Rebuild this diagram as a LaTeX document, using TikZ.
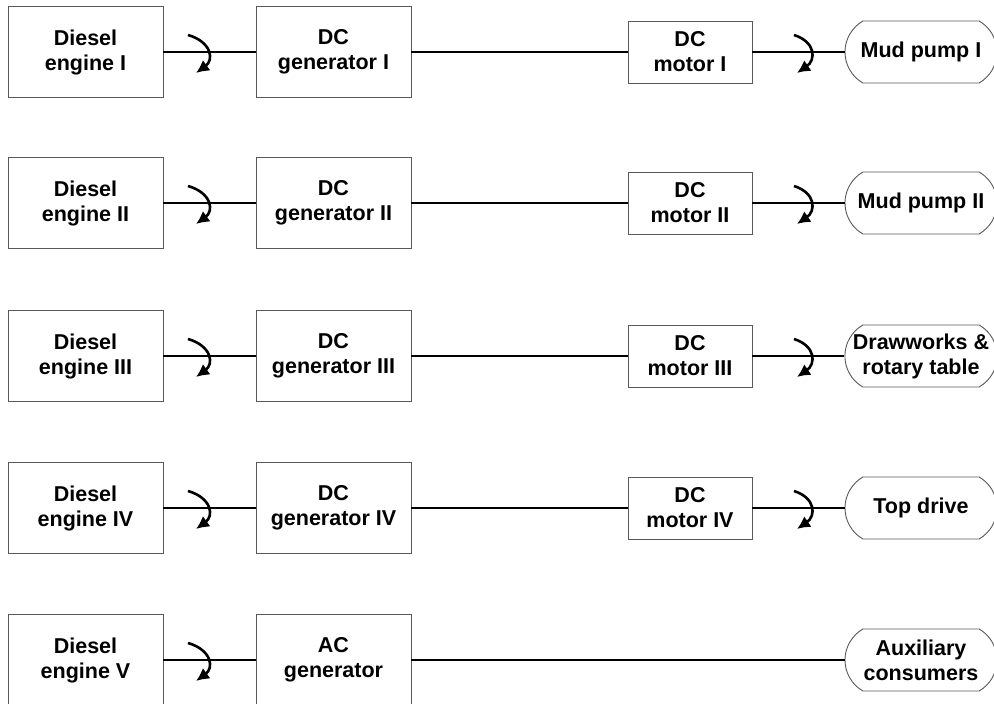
\documentclass[tikz,border=0pt]{standalone}
\usepackage{fontspec}
\setmainfont{Liberation Sans}
\usetikzlibrary{shapes.misc,arrows.meta}
\begin{document}
\begin{tikzpicture}[x=1pt,y=-1pt,
  unit/.style={draw=black!65, line width=0.9pt, fill=white, align=center,
    font=\fontsize{21.5}{25}\selectfont\bfseries, inner sep=0pt},
  bigbox/.style={unit, minimum width=155pt, minimum height=91pt},
  motorbox/.style={unit, minimum width=124pt, minimum height=62pt},
  loadbox/.style={unit, rounded rectangle, rounded rectangle arc length=120,
    minimum width=152pt, minimum height=62pt},
  shaft/.style={line width=2.2pt, black},
  rot/.style={line width=2.6pt, -{Latex[length=13pt,width=13pt]}},
]
\useasboundingbox (0,0) rectangle (994,704);
\clip (0,0) rectangle (994,704);

% rows: engine -> generator -> (motor) -> load
\foreach \r/\y in {1/52,2/203,3/356,4/508,5/660}{
  \coordinate (ra\r) at (200,\y);
  \coordinate (rb\r) at (800,\y);
}

\node[bigbox] (e1) at (85.5,52) {Diesel\\engine I};
\node[bigbox] (g1) at (333.5,52) {DC\\generator I};
\node[motorbox] (m1) at (690,52) {DC\\motor I};
\node[loadbox] (p1) at (921,52) {Mud pump I};

\node[bigbox] (e2) at (85.5,203) {Diesel\\engine II};
\node[bigbox] (g2) at (333.5,203) {DC\\generator II};
\node[motorbox] (m2) at (690,203) {DC\\motor II};
\node[loadbox] (p2) at (921,203) {Mud pump II};

\node[bigbox] (e3) at (85.5,356) {Diesel\\engine III};
\node[bigbox] (g3) at (333.5,356) {DC\\generator III};
\node[motorbox] (m3) at (690,356) {DC\\motor III};
\node[loadbox] (p3) at (921,356) {Drawworks \&\\rotary table};

\node[bigbox] (e4) at (85.5,508) {Diesel\\engine IV};
\node[bigbox] (g4) at (333.5,508) {DC\\generator IV};
\node[motorbox] (m4) at (690,508) {DC\\motor IV};
\node[loadbox] (p4) at (921,508) {Top drive};

\node[bigbox] (e5) at (85.5,660) {Diesel\\engine V};
\node[bigbox] (g5) at (333.5,660) {AC\\generator};
\node[loadbox] (p5) at (921,660) {Auxiliary\\consumers};

% shafts and direction-of-rotation marks
\foreach \r in {1,2,3,4}{
  \draw[shaft] (e\r) -- (g\r);
  \draw[shaft] (g\r) -- (m\r);
  \draw[shaft] (m\r) -- (p\r);
  \draw[rot, shift={(ra\r)}] (-12,-17) .. controls (12,-10) and (14,8) .. (-4,21);
  \draw[rot, shift={(rb\r)}] (-6,-17) .. controls (16,-10) and (16,8) .. (-3,21);
}
\draw[shaft] (e5) -- (g5);
\draw[shaft] (g5) -- (p5);
\draw[rot, shift={(ra5)}] (-12,-17) .. controls (12,-10) and (14,8) .. (-4,21);
\end{tikzpicture}
\end{document}
